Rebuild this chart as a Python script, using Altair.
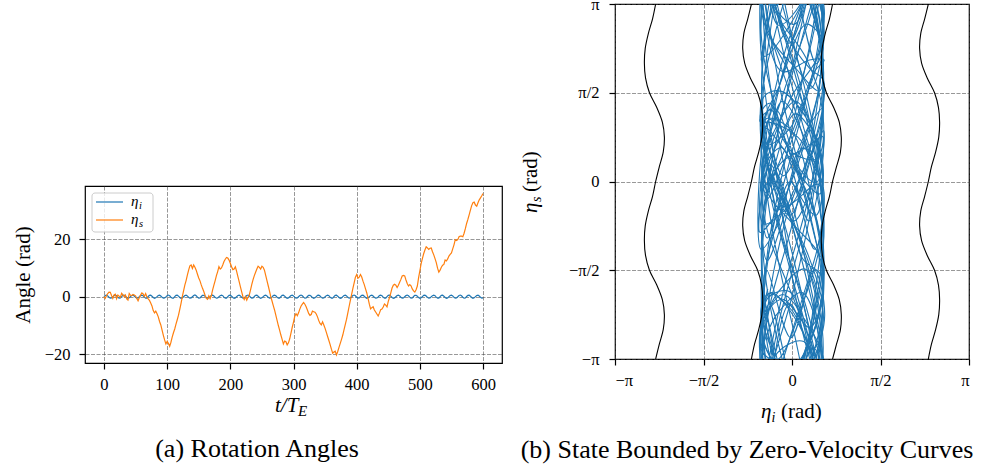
import math
import pandas as pd
import altair as alt

FONT = "Liberation Serif"
BLUE = "#1f77b4"
ORANGE = "#ff7f0e"

# ---------------- data ----------------
T_STEP = 2  # the two series below are sampled every 2 T_E, from t = 0 to t = 600

eta_s_series = [
    0.0, -0.6, 0.3, 1.1, 1.6, 1.5, 0.4, -0.6, 0.6, 0.9,
    -0.7, 0.6, 0.2, -0.2, 1.2, 0.6, 0.0, 0.6, -0.8, -1.2,
    1.1, 0.5, 0.4, 0.8, 0.6, 0.3, -0.6, -1.4, -0.3, 0.6,
    1.3, 1.0, 0.1, 1.1, -0.1, -0.8, -1.3, -2.2, -3.2, -4.8,
    -5.6, -5.0, -5.9, -7.0, -8.6, -9.8, -11.6, -13.4, -15.0, -16.4,
    -15.5, -16.2, -17.2, -15.8, -14.0, -12.5, -11.2, -9.5, -8.0, -6.4,
    -4.4, -2.3, 0.0, 2.0, 4.0, 5.6, 7.5, 9.2, 10.7, 11.0,
    9.8, 11.0, 10.2, 9.2, 7.8, 6.5, 5.5, 4.1, 2.9, 1.8,
    0.5, -0.6, -0.9, 0.3, -0.7, 0.4, 2.4, 4.0, 5.6, 7.3,
    8.7, 10.4, 9.6, 10.0, 11.0, 12.2, 13.0, 13.6, 13.4, 12.7,
    11.6, 10.4, 9.4, 9.6, 10.4, 8.8, 7.0, 5.2, 3.4, 1.7,
    0.0, -1.0, 0.0, -1.2, -0.2, 0.6, 2.4, 4.3, 5.9, 7.3,
    8.5, 9.6, 10.6, 10.2, 9.6, 10.6, 10.2, 9.2, 7.4, 5.6,
    3.8, 1.9, 0.0, -1.5, -3.1, -4.6, -6.4, -8.2, -10.0, -11.6,
    -13.3, -14.8, -16.4, -15.4, -15.6, -16.7, -16.0, -14.6, -12.6, -10.6,
    -8.8, -6.8, -5.9, -6.6, -5.6, -4.3, -3.2, -2.6, -2.0, -2.6,
    -3.5, -4.6, -5.8, -6.5, -6.2, -5.0, -5.2, -5.4, -6.0, -7.0,
    -8.3, -9.3, -9.8, -8.7, -9.8, -11.0, -12.4, -13.8, -15.2, -16.6,
    -18.2, -19.6, -19.2, -18.9, -20.2, -19.0, -17.6, -16.2, -14.8, -13.3,
    -11.4, -9.6, -7.8, -5.6, -3.4, -1.3, 0.8, 2.9, 4.8, 6.8,
    7.7, 6.4, 6.8, 7.7, 6.8, 5.4, 4.2, 2.7, 1.3, -0.6,
    -2.6, -4.2, -3.8, -3.5, -4.6, -5.3, -6.0, -6.7, -5.7, -4.5,
    -4.3, -3.6, -2.5, -2.9, -3.5, -1.6, -0.3, 1.3, 3.0, 4.0,
    4.3, 4.0, 3.2, 4.0, 5.0, 6.0, 7.2, 7.4, 7.2, 5.8,
    4.6, 3.7, 4.2, 3.8, 2.7, 2.0, 1.6, 2.4, 3.7, 6.6,
    9.0, 11.5, 13.2, 14.9, 16.2, 17.3, 16.9, 16.4, 16.8, 16.9,
    15.6, 14.5, 13.2, 11.8, 9.9, 8.5, 9.2, 10.2, 10.9, 11.2,
    12.7, 12.4, 13.1, 14.1, 14.7, 15.2, 16.6, 18.0, 19.8, 19.5,
    19.8, 20.8, 21.0, 21.0, 20.8, 22.0, 23.6, 25.4, 26.8, 28.4,
    30.0, 31.6, 32.6, 32.8, 31.8, 31.4, 32.6, 33.6, 34.3, 35.0,
    35.8,
]

eta_i_series = [
    0.00, 0.42, 0.55, 0.27, -0.20, -0.50, -0.45,
    -0.04, 0.40, 0.56, 0.30, -0.18, -0.52, -0.47,
    0.05, 0.47, 0.52, 0.20, -0.27, -0.55, -0.40,
    0.02, 0.44, 0.54, 0.25, -0.22, -0.52, -0.44,
    -0.03, 0.38, 0.55, 0.31, -0.16, -0.49, -0.48,
    0.06, 0.48, 0.51, 0.18, -0.29, -0.56, -0.39,
    0.01, 0.43, 0.54, 0.24, -0.23, -0.53, -0.43,
    -0.05, 0.37, 0.57, 0.33, -0.15, -0.50, -0.49,
    0.04, 0.46, 0.53, 0.21, -0.26, -0.54, -0.41,
    0.00, 0.41, 0.55, 0.28, -0.21, -0.51, -0.45,
    -0.02, 0.39, 0.58, 0.32, -0.17, -0.53, -0.46,
    0.07, 0.49, 0.50, 0.17, -0.30, -0.57, -0.38,
    0.03, 0.45, 0.54, 0.23, -0.24, -0.52, -0.42,
    -0.04, 0.36, 0.56, 0.34, -0.14, -0.48, -0.50,
    0.05, 0.47, 0.52, 0.19, -0.28, -0.55, -0.40,
    0.01, 0.42, 0.56, 0.26, -0.22, -0.51, -0.44,
    -0.03, 0.40, 0.57, 0.31, -0.18, -0.52, -0.47,
    0.06, 0.48, 0.51, 0.18, -0.28, -0.56, -0.39,
    0.02, 0.43, 0.55, 0.25, -0.23, -0.53, -0.43,
    -0.05, 0.37, 0.56, 0.33, -0.15, -0.49, -0.49,
    0.04, 0.46, 0.53, 0.21, -0.26, -0.55, -0.41,
    0.00, 0.41, 0.55, 0.28, -0.20, -0.51, -0.45,
    -0.02, 0.39, 0.57, 0.32, -0.17, -0.53, -0.46,
    0.07, 0.49, 0.50, 0.17, -0.30, -0.57, -0.38,
    0.03, 0.45, 0.54, 0.23, -0.24, -0.52, -0.42,
    -0.04, 0.36, 0.56, 0.34, -0.14, -0.48, -0.50,
    0.05, 0.47, 0.52, 0.19, -0.28, -0.55, -0.40,
    0.01, 0.42, 0.56, 0.26, -0.22, -0.51, -0.44,
    -0.03, 0.40, 0.57, 0.31, -0.18, -0.52, -0.47,
    0.06, 0.48, 0.51, 0.18, -0.28, -0.56, -0.39,
    0.02, 0.43, 0.55, 0.25, -0.23, -0.53, -0.43,
    -0.05, 0.37, 0.56, 0.33, -0.15, -0.49, -0.49,
    0.04, 0.46, 0.53, 0.21, -0.26, -0.55, -0.41,
    0.00, 0.41, 0.55, 0.28, -0.20, -0.51, -0.45,
    -0.02, 0.39, 0.57, 0.32, -0.17, -0.53, -0.46,
    0.07, 0.49, 0.50, 0.17, -0.30, -0.57, -0.38,
    0.03, 0.45, 0.54, 0.23, -0.24, -0.52, -0.42,
    -0.04, 0.36, 0.56, 0.34, -0.14, -0.48, -0.50,
    0.05, 0.47, 0.52, 0.19, -0.28, -0.55, -0.40,
    0.01, 0.42, 0.56, 0.26, -0.22, -0.51, -0.44,
    -0.03, 0.40, 0.57, 0.31, -0.18, -0.52, -0.47,
    0.06, 0.48, 0.51, 0.18, -0.28, -0.56, -0.39,
    0.02, 0.43, 0.55, 0.25, -0.23, -0.53, -0.43,
]

time_ticks = [0, 100, 200, 300, 400, 500, 600]
angle_ticks = [-20, 0, 20]
time_domain = [-30, 630]
angle_domain = [-23.0, 38.4]

PI = math.pi
pi_ticks = [-PI, -PI / 2, 0.0, PI / 2, PI]
pi_labels = ["\u2212\u03c0", "\u2212\u03c0/2", "0", "\u03c0/2", "\u03c0"]

# zero-velocity curves, eta_i read at eta_s = -pi, -11pi/12, ..., pi
zv_eta_s = [-PI + j * PI / 12 for j in range(25)]
zv_curve_1 = [-2.42, -2.355, -2.285, -2.265, -2.30, -2.40, -2.53, -2.60, -2.62, -2.605, -2.55, -2.475,
              -2.42, -2.355, -2.285, -2.265, -2.30, -2.40, -2.53, -2.60, -2.62, -2.605, -2.55, -2.475, -2.42]
zv_curve_2 = [-0.72, -0.665, -0.59, -0.535, -0.52, -0.54, -0.61, -0.74, -0.84, -0.875, -0.855, -0.785,
              -0.72, -0.665, -0.59, -0.535, -0.52, -0.54, -0.61, -0.74, -0.84, -0.875, -0.855, -0.785, -0.72]
zv_curve_3 = [0.72, 0.79, 0.86, 0.875, 0.84, 0.74, 0.61, 0.54, 0.52, 0.535, 0.59, 0.665,
              0.72, 0.79, 0.86, 0.875, 0.84, 0.74, 0.61, 0.54, 0.52, 0.535, 0.59, 0.665, 0.72]
zv_curve_4 = [2.42, 2.475, 2.55, 2.605, 2.62, 2.60, 2.53, 2.40, 2.30, 2.265, 2.285, 2.355,
              2.42, 2.475, 2.55, 2.605, 2.62, 2.60, 2.53, 2.40, 2.30, 2.265, 2.285, 2.355, 2.42]

series_keys = ["eta_i", "eta_s"]
series_base = ["\u03b7", "\u03b7"]
series_sub = ["i", "s"]
caption_a = "(a) Rotation Angles"
caption_b = "(b) State Bounded by Zero-Velocity Curves"

# ---------------- tables ----------------
n = min(len(eta_s_series), len(eta_i_series))
t_vals = [i * T_STEP for i in range(n)]
left_df = pd.DataFrame({
    "t": t_vals + t_vals,
    "angle": eta_i_series[:n] + eta_s_series[:n],
    "series": [series_keys[0]] * n + [series_keys[1]] * n,
})

# trajectory in the (eta_i, eta_s mod 2pi) plane: one copy per 2pi shift, clipped to the frame
copies = []
for k in range(-5, 9):
    shifted = [s - 2 * PI * k for s in eta_s_series[:n]]
    if any(-PI - 1 <= v <= PI + 1 for v in shifted):
        copies.append(pd.DataFrame({
            "eta_i": eta_i_series[:n], "eta_s": shifted, "k": k, "idx": list(range(n))}))
traj_df = pd.concat(copies, ignore_index=True)

zv_curves = [zv_curve_1, zv_curve_2, zv_curve_3, zv_curve_4]
zv_df = pd.DataFrame({
    "eta_s": zv_eta_s * len(zv_curves),
    "eta_i": sum(zv_curves, []),
    "curve": sum([[c] * len(zv_eta_s) for c in range(len(zv_curves))], []),
    "idx": list(range(len(zv_eta_s))) * len(zv_curves),
})

one = pd.DataFrame({"v": [0]})


def text_layer(text, x, y, size, align="left", baseline="alphabetic", italic=False, angle=0):
    kw = dict(text=text, font=FONT, fontSize=size, align=align, baseline=baseline, color="black")
    if italic:
        kw["fontStyle"] = "italic"
    if angle:
        kw["angle"] = angle
    return alt.Chart(one).mark_text(**kw).encode(x=alt.value(x), y=alt.value(y))


# ---------------- left panel ----------------
LW, LH = 417, 177
lines = alt.Chart(left_df).mark_line(strokeWidth=1.2, clip=True).encode(
    x=alt.X("t:Q", scale=alt.Scale(domain=time_domain, nice=False, zero=False),
            axis=alt.Axis(values=time_ticks, format="d", title=None, labelPadding=7)),
    y=alt.Y("angle:Q", scale=alt.Scale(domain=angle_domain, nice=False, zero=False),
            axis=alt.Axis(values=angle_ticks, format="d", title="Angle (rad)",
                          titlePadding=11, labelPadding=9)),
    color=alt.Color("series:N", scale=alt.Scale(domain=series_keys, range=[BLUE, ORANGE]), legend=None),
)

legend_box = alt.Chart(one).mark_rect(
    fill="white", fillOpacity=0.8, stroke="#cccccc", strokeWidth=1, cornerRadius=3
).encode(x=alt.value(7), x2=alt.value(68), y=alt.value(7), y2=alt.value(46))

legend_layers = [legend_box]
for i, col in enumerate([BLUE, ORANGE]):
    yy = 16 + 18 * i
    legend_layers.append(
        alt.Chart(one).mark_rule(color=col, strokeWidth=1.2).encode(
            x=alt.value(11), x2=alt.value(38), y=alt.value(yy)))
    legend_layers.append(text_layer(series_base[i], 46, yy + 4, 15, italic=True))
    legend_layers.append(text_layer(series_sub[i], 54, yy + 7, 10.5, italic=True))

xtitle_left = [
    text_layer("t/T", 190, 226, 21, italic=True),
    text_layer("E", 213, 230, 15, italic=True),
]
cap_a = text_layer(caption_a, 172, 271, 26, align="center")

left = alt.layer(lines, *legend_layers, *xtitle_left, cap_a).properties(width=LW, height=LH)

spacer = alt.Chart(one).mark_point(opacity=0, size=1).encode(
    x=alt.value(0), y=alt.value(0)
).properties(width=LW, height=181, view=alt.ViewBackground(strokeOpacity=0))

# ---------------- right panel ----------------
RW, RH = 354, 355
pi_expr = "".join(
    f"abs(datum.value - ({v!r})) < 1e-6 ? '{lab}' : " for v, lab in zip(pi_ticks, pi_labels)
) + "''"

x_right = alt.X("eta_i:Q", scale=alt.Scale(domain=[-PI, PI], nice=False, zero=False),
                axis=alt.Axis(values=pi_ticks, labelExpr=pi_expr, title=None, labelPadding=7))
y_right = alt.Y("eta_s:Q", scale=alt.Scale(domain=[-PI, PI], nice=False, zero=False),
                axis=alt.Axis(values=pi_ticks, labelExpr=pi_expr, title=None, labelPadding=10))

traj = alt.Chart(traj_df).mark_line(
    color=BLUE, strokeWidth=1.1, clip=True, interpolate="catmull-rom"
).encode(x=x_right, y=y_right, detail="k:N", order="idx:Q")

zv = alt.Chart(zv_df).mark_line(
    color="black", strokeWidth=1.1, clip=True, interpolate="catmull-rom"
).encode(x=x_right, y=y_right, detail="curve:N", order="idx:Q")

# axis titles with true subscripts
ytitle_right = [
    text_layer("\u03b7", -78, 209, 21, italic=True, angle=270),
    text_layer("s", -74, 198, 14, italic=True, angle=270),
    text_layer("(rad)", -78, 188, 21, angle=270),
]
xtitle_right = [
    text_layer("\u03b7", 146, 414, 21, italic=True),
    text_layer("i", 156.5, 418, 14, italic=True),
    text_layer("(rad)", 166, 414, 21),
]
cap_b = text_layer(caption_b, 132, 454, 26, align="center")

right = alt.layer(traj, zv, *ytitle_right, *xtitle_right, cap_b).properties(width=RW, height=RH)

chart = alt.hconcat(
    alt.vconcat(spacer, left, spacing=0), right, spacing=16
).properties(
    padding={"left": 11, "top": -5, "right": 0, "bottom": 0}
).configure_view(
    stroke="black", strokeWidth=1.2
).configure_axis(
    labelFont=FONT, labelFontSize=16.5, labelColor="black",
    titleFont=FONT, titleFontSize=21, titleFontWeight="normal", titleColor="black",
    tickColor="black", tickSize=6, tickWidth=1.2, domain=False,
    grid=True, gridColor="#444444", gridOpacity=0.55, gridDash=[4, 1.5], gridWidth=1,
)

chart.save("out.html", embed_options={"renderer": "svg", "actions": False})
